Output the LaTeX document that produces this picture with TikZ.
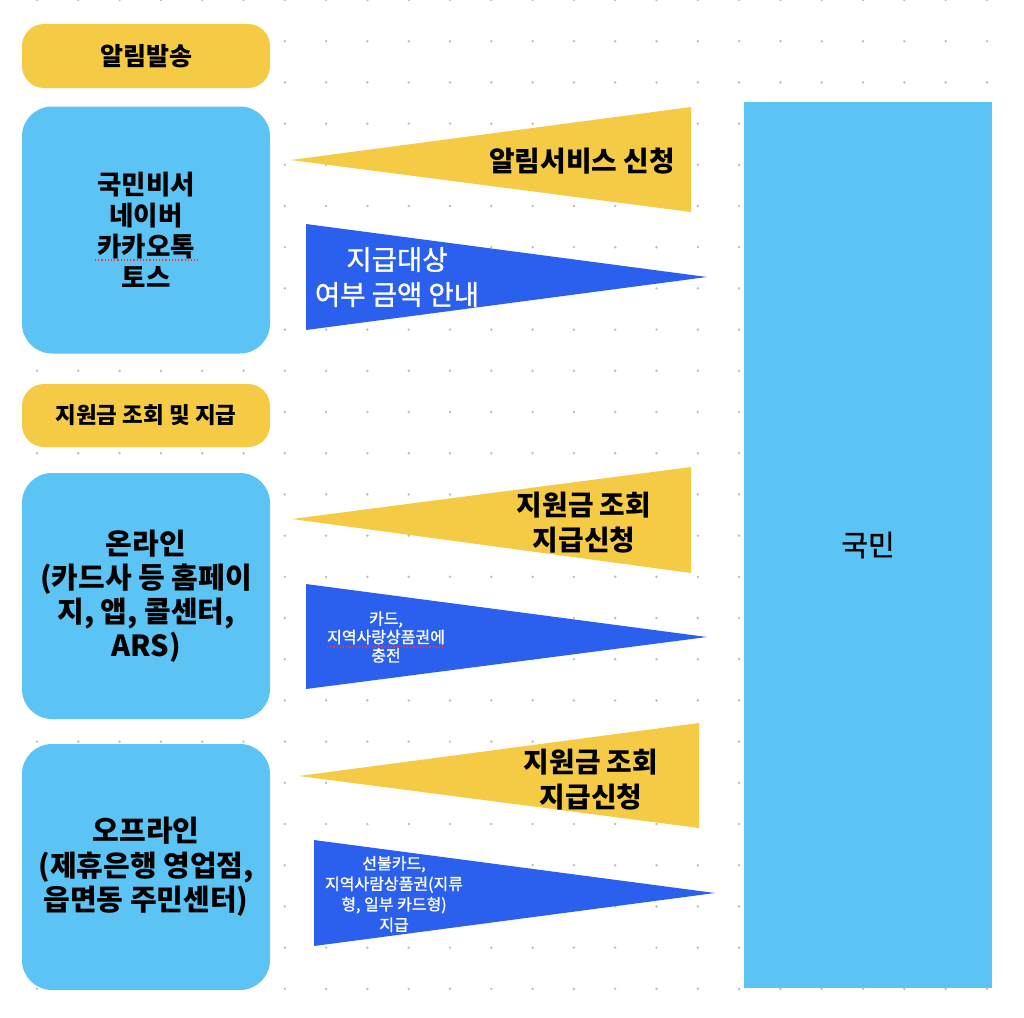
\documentclass[tikz,border=0pt]{standalone}
\usepackage{fontspec}
\setmainfont{Noto Sans CJK KR}
\newfontfamily\medfont{Noto Sans CJK KR}[FakeBold=1.2]
\definecolor{ylw}{HTML}{F5CB46}
\definecolor{sky}{HTML}{5BC4F5}
\definecolor{roy}{HTML}{2B60EE}
\definecolor{dotc}{HTML}{BDBDBD}
\begin{document}
\begin{tikzpicture}[x=1pt,y=-1pt,
  pill/.style={fill=ylw, rounded corners=22pt, minimum width=248pt, minimum height=64pt, inner sep=0pt, align=center},
  srcbox/.style={fill=sky, rounded corners=30pt, minimum width=248pt, minimum height=247pt, inner sep=0pt, align=center},
  ytext/.style={align=center, text=black, font=\bfseries\fontsize{27.8}{35}\selectfont},
  btext/.style={align=center, text=white},
  spell/.style={draw=red!80, dotted, line width=1.2pt}]
\useasboundingbox (0,0) rectangle (1024,1017);
% dot grid
\foreach \i in {0,...,23}{
  \foreach \j in {0,...,24}{
    \fill[dotc] ({37+41.3*\i},{41.2*\j}) circle (1.35pt);
  }
}
% left column
\node[pill, font=\bfseries\fontsize{25}{30}\selectfont] (p1) at (146,56) {알림발송};
\node[srcbox, font=\bfseries\fontsize{26.5}{31}\selectfont] (b1) at (146,230) {국민비서\\네이버\\카카오톡\\토스};
\node[pill, minimum height=63pt, font=\bfseries\fontsize{22.5}{28}\selectfont] (p2) at (146,415.5) {지원금 조회 및 지급};
\node[srcbox, minimum height=246pt, font=\bfseries\fontsize{29}{34}\selectfont] (b2) at (146,596) {온라인\\(카드사 등 홈페이\\지, 앱, 콜센터,\\ARS)};
\node[srcbox, minimum height=246pt, font=\bfseries\fontsize{29}{34.5}\selectfont] (b3) at (146,867) {오프라인\\(제휴은행 영업점,\\읍면동 주민센터)};
% right column
\node[fill=sky, minimum width=248pt, minimum height=886pt, inner sep=0pt, font=\medfont\fontsize{29}{32}\selectfont] (people) at (868,545) {국민};
% triangles
\fill[ylw] (291,160) -- (691,107) -- (691,212) -- cycle;
\fill[roy] (306,224) -- (707,277) -- (306,330) -- cycle;
\fill[ylw] (292,519) -- (691,467) -- (691,573) -- cycle;
\fill[roy] (306,584) -- (707,637) -- (306,689) -- cycle;
\fill[ylw] (299,776) -- (699,723) -- (699,828) -- cycle;
\fill[roy] (314,840) -- (715,893) -- (314,946) -- cycle;
% triangle texts
\node[ytext] (t1) at (582,161) {알림서비스 신청};
\node[btext, font=\medfont\fontsize{27.5}{35}\selectfont] (t2) at (397,277) {지급대상\\여부 금액 안내};
\node[ytext] (t3) at (584,523) {지원금 조회\\지급신청};
\node[btext, font=\medfont\fontsize{16}{18.5}\selectfont] (t4) at (386,637) {카드,\\지역사랑상품권에\\충전};
\node[ytext] (t5) at (591,780) {지원금 조회\\지급신청};
\node[btext, font=\medfont\fontsize{16}{20.5}\selectfont] (t6) at (394,894) {선불카드,\\지역사람상품권(지류\\형, 일부 카드형)\\지급};
% spell-check underlines
\coordinate (u1a) at (95,260); \coordinate (u1b) at (198,260);
\coordinate (u2a) at (327,647); \coordinate (u2b) at (444,647);
\draw[spell] (u1a) -- (u1b);
\draw[spell] (u2a) -- (u2b);
\end{tikzpicture}
\end{document}
